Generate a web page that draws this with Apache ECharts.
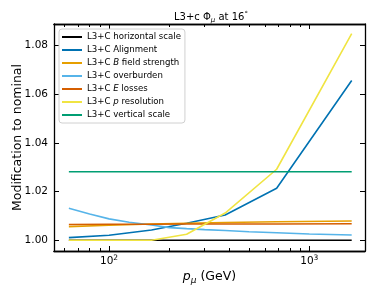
<!DOCTYPE html>
<html><head><meta charset="utf-8">
<script src="https://cdn.jsdelivr.net/npm/echarts@6/dist/echarts.min.js"></script>
<style>html,body{margin:0;padding:0;background:#fff}#c{width:374px;height:299px}</style>
</head><body><div id="c"></div>
<script>
// ---- data ----
const energies = [63, 100, 163, 244, 380, 687, 1628];
const horizontalScale = [1.0000, 1.0000, 1.0000, 1.0000, 1.0000, 1.0000, 1.0000];
const alignment = [1.0011, 1.0021, 1.0042, 1.0070, 1.0104, 1.0214, 1.0657];
const bFieldStrength = [1.0056, 1.0062, 1.0067, 1.0070, 1.0073, 1.0076, 1.0079];
const overburdenEnergies = [63, 80, 100, 126, 163, 200, 244, 300, 380, 500, 687, 1000, 1628];
const overburden = [1.0132, 1.0108, 1.0088, 1.0074, 1.0063, 1.0052, 1.0048, 1.0044, 1.0040, 1.0035, 1.0031, 1.0026, 1.0022];
const eLosses = [1.0065, 1.0066, 1.0066, 1.0067, 1.0067, 1.0067, 1.0068];
const pResolution = [1.0000, 1.0000, 1.0000, 1.0025, 1.0112, 1.0292, 1.0849];
const verticalScale = [1.0282, 1.0282, 1.0282, 1.0282, 1.0282, 1.0282, 1.0282];
const yTicks = [1.00, 1.02, 1.04, 1.06, 1.08];
const xMajorTicks = [100, 1000];
const xMinorTicks = [60, 70, 80, 90, 200, 300, 400, 500, 600, 700, 800, 900];
const seriesNames = ['L3+C horizontal scale', 'L3+C Alignment', 'L3+C B field strength', 'L3+C overburden', 'L3+C E losses', 'L3+C p resolution', 'L3+C vertical scale'];
const seriesColors = ['#000000', '#0072B2', '#E69F00', '#56B4E9', '#D55E00', '#F0E442', '#009E73'];

const FONT = 'DejaVu Sans';
const pair = (xs, ys) => xs.map((x, i) => [x, ys[i]]);
const seriesData = [
  pair(energies, horizontalScale),
  pair(energies, alignment),
  pair(energies, bFieldStrength),
  pair(overburdenEnergies, overburden),
  pair(energies, eLosses),
  pair(energies, pResolution),
  pair(energies, verticalScale)
];
const legendRich = {
  n: {fontFamily: FONT, fontSize: 8.6, color: '#000', lineHeight: 10},
  i: {fontFamily: FONT, fontSize: 8.6, color: '#000', fontStyle: 'italic', lineHeight: 10}
};
function legendFmt(name) {
  const m = name.match(/^L3\+C (B|E|p) (.*)$/);
  if (m) return '{n|L3+C }{i|' + m[1] + '}{n| ' + m[2] + '}';
  return '{n|' + name + '}';
}
const XMIN = 53.1, XMAX = 1897, YMIN = 0.9956, YMAX = 1.0889;
const axisLine = {show: true, lineStyle: {color: '#000', width: 1.3}};
function xAxisDef(pos, major, show) {
  return {
    type: 'log', logBase: 10, min: XMIN, max: XMAX, position: pos,
    axisLine: axisLine,
    splitLine: {show: false},
    axisTick: {show: true, inside: true, length: major ? 5 : 3, lineStyle: {color: '#000', width: 1},
      customValues: major ? xMajorTicks : xMinorTicks},
    axisLabel: show ? {
      show: true, customValues: xMajorTicks, margin: 3,
      formatter: v => '{b|10}{s|' + Math.round(Math.log10(v)) + '}',
      rich: {
        b: {fontFamily: FONT, fontSize: 10.5, color: '#000', lineHeight: 13, verticalAlign: 'bottom'},
        s: {fontFamily: FONT, fontSize: 7.5, color: '#000', lineHeight: 8, verticalAlign: 'top'}
      }
    } : {show: false},
    name: show ? '{i|p}{sub|μ}{n| (GeV)}' : '',
    nameLocation: 'middle', nameGap: 19, nameMoveOverlap: false,
    nameTextStyle: {
      rich: {
        i: {fontFamily: FONT, fontSize: 12.5, fontStyle: 'italic', color: '#000', lineHeight: 15, verticalAlign: 'top'},
        sub: {fontFamily: FONT, fontSize: 9, fontStyle: 'italic', color: '#000', lineHeight: 9, verticalAlign: 'bottom'},
        n: {fontFamily: FONT, fontSize: 12.5, color: '#000', lineHeight: 15, verticalAlign: 'top'}
      }
    }
  };
}
function yAxisDef(pos, show) {
  return {
    type: 'value', min: YMIN, max: YMAX, position: pos,
    axisLine: axisLine,
    splitLine: {show: false},
    axisTick: {show: true, inside: true, length: 5, lineStyle: {color: '#000', width: 1}, customValues: yTicks},
    axisLabel: show ? {show: true, customValues: yTicks, margin: 6, fontFamily: FONT, fontSize: 10.5, color: '#000',
      formatter: v => v.toFixed(2)} : {show: false},
    name: show ? 'Modification to nominal' : '',
    nameLocation: 'middle', nameGap: 30, nameRotate: 90, nameMoveOverlap: false,
    nameTextStyle: {fontFamily: FONT, fontSize: 12.5, color: '#000'}
  };
}
const chart = echarts.init(document.getElementById('c'), null, {renderer: 'canvas'});
chart.setOption({
  animation: false,
  backgroundColor: '#fff',
  title: {
    text: '{n|L3+c Φ}{sub|μ}{n| at 16}{sup|°}',
    left: 169, top: 6,
    textStyle: {
      fontWeight: 'normal',
      rich: {
        n: {fontFamily: FONT, fontSize: 10, fontWeight: 'normal', color: '#000', lineHeight: 13, verticalAlign: 'middle'},
        sub: {fontFamily: FONT, fontSize: 7, fontWeight: 'normal', color: '#000', fontStyle: 'italic', lineHeight: 6, verticalAlign: 'bottom'},
        sup: {fontFamily: FONT, fontSize: 7, fontWeight: 'normal', color: '#000', lineHeight: 8, verticalAlign: 'top'}
      }
    }
  },
  grid: {left: 54, right: 9, top: 24, bottom: 48, containLabel: false, outerBoundsMode: 'none'},
  legend: {
    orient: 'vertical', left: 59, top: 29,
    padding: [3, 4, 3, 3],
    icon: 'rect', itemWidth: 20, itemHeight: 2, itemGap: 3,
    backgroundColor: 'rgba(255,255,255,0.85)',
    borderColor: '#d0d0d0', borderWidth: 1, borderRadius: 3,
    data: seriesNames,
    formatter: legendFmt,
    textStyle: {fontFamily: FONT, fontSize: 8.6, color: '#000', lineHeight: 10, rich: legendRich}
  },
  xAxis: [xAxisDef('bottom', true, true), xAxisDef('bottom', false, false), xAxisDef('top', true, false), xAxisDef('top', false, false)],
  yAxis: [yAxisDef('left', true), yAxisDef('right', false)],
  series: seriesNames.map((name, k) => ({
    name: name, type: 'line', xAxisIndex: 0, yAxisIndex: 0,
    data: seriesData[k], symbol: 'none', showSymbol: false,
    color: seriesColors[k],
    lineStyle: {color: seriesColors[k], width: 1.6},
    z: 2 + k
  }))
});
</script>
</body></html>
